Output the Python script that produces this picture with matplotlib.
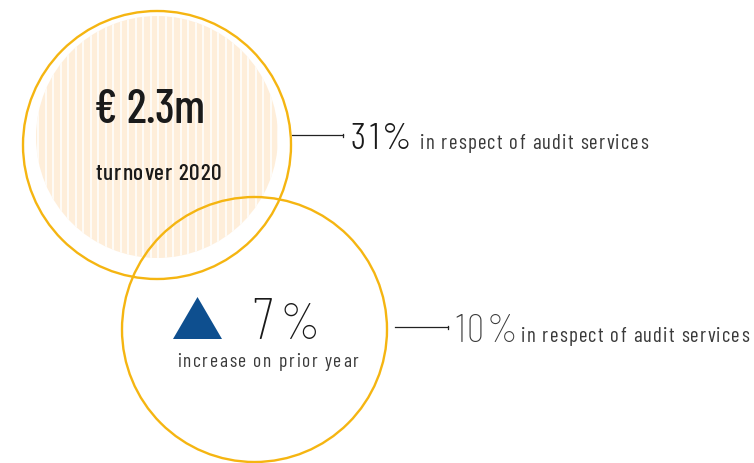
import matplotlib
matplotlib.use("Agg")
import matplotlib.pyplot as plt
import matplotlib.font_manager as fm
from matplotlib.patches import Circle, Polygon
import numpy as np

# figures shown in the graphic
turnover_label = "€ 2.3m"
turnover_caption = "turnover 2020"
growth_pct = 7
growth_caption = "increase on prior year"
audit_share = [31, 10]
audit_caption = "in respect of audit services"

GOLD = "#F5B511"
PEACH = "#FEEEDA"
BLUE = "#0E4F8F"
TXT = "#1a1a1a"
GREY = "#3a3a3a"

have = {f.name for f in fm.fontManager.ttflist}
cond = next(f for f in ["Barlow Condensed", "Roboto Condensed", "Saira ExtraCondensed",
                        "Sofia Sans Condensed", "DejaVu Sans"] if f in have)

fig = plt.figure(figsize=(7.54, 4.63), dpi=100)
ax = fig.add_axes([0, 0, 1, 1])
ax.set_xlim(0, 754)
ax.set_ylim(463, 0)
ax.set_aspect("equal")
ax.axis("off")
rend = fig.canvas.get_renderer()


def width(s, **kw):
    t = ax.text(0, 0, s, **kw)
    w = t.get_window_extent(rend).width
    t.remove()
    return w


def tracked(x, y, s, track, **kw):
    # letter-spaced text, one glyph at a time
    kw.setdefault("va", "baseline")
    kw.setdefault("ha", "left")
    wx = width("x", **kw)
    for i, ch in enumerate(s):
        off = width(s[:i] + "x", **kw) - wx if i else 0
        ax.text(x + off + i * track, y, ch, **kw)


# big circle with striped fill
c1 = (157, 145)
inner = Circle((157, 137), 121, facecolor=PEACH, edgecolor="none", zorder=1)
ax.add_patch(inner)
for x in np.arange(38, 280, 7.5):
    ln, = ax.plot([x, x], [0, 300], color="white", lw=1.1, zorder=2)
    ln.set_clip_path(inner)
ax.add_patch(Circle(c1, 134, fill=False, edgecolor=GOLD, lw=1.7, zorder=3))

# second circle
c2 = (254.5, 329.5)
ax.add_patch(Circle(c2, 132.5, fill=False, edgecolor=GOLD, lw=1.7, zorder=3))

# connectors
ax.plot([292, 343], [135, 135], color="#222", lw=0.9)
ax.plot([343, 343], [133.5, 136.5], color="#222", lw=0.9)
ax.plot([395, 448], [327, 327], color="#222", lw=0.9)
ax.plot([448, 448], [325.5, 328.5], color="#222", lw=0.9)

# texts in first circle
tracked(94, 123, turnover_label, -0.4, fontfamily=cond, fontsize=34, fontweight="medium",
        color=TXT)
tracked(96, 180, turnover_caption, 0.8, fontfamily=cond, fontsize=17, fontweight="medium",
        color=TXT)

# growth marker + text
tx, ty, tw, th = 197.5, 318, 49, 42
ax.add_patch(Polygon([[tx - tw / 2, ty + th / 2], [tx + tw / 2, ty + th / 2], [tx, ty - th / 2]],
                     closed=True, facecolor=BLUE, edgecolor="none", zorder=4))
big = dict(fontfamily=cond, fontsize=42, fontweight=200, color=TXT, va="baseline", ha="left")
ax.text(252, 339, f"{growth_pct}", **big)
ax.text(280, 339, "%", **dict(big, fontsize=37))
tracked(177, 367, growth_caption, 1.7, fontfamily=cond, fontsize=14, color=GREY)

# audit shares
tracked(351, 149, f"{audit_share[0]}%", 3.5, fontfamily=cond, fontsize=27, fontweight=300,
        color=TXT)
tracked(420, 149, audit_caption, 1.3, fontfamily=cond, fontsize=15, color=GREY)
tracked(455, 342, f"{audit_share[1]}%", 2.5, fontfamily=cond, fontsize=28, fontweight=200,
        color=GREY)
tracked(521, 342, audit_caption, 1.3, fontfamily=cond, fontsize=15, color=GREY)

fig.savefig("out.png", dpi=100, facecolor="white")
